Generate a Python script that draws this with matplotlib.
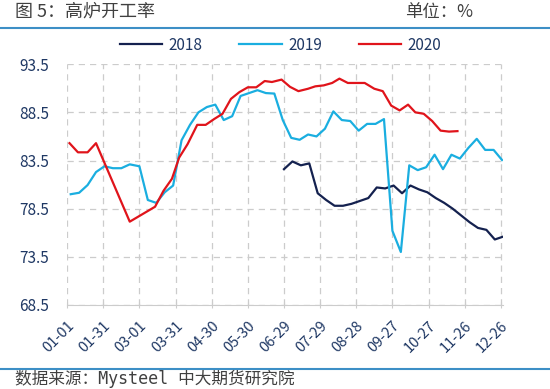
import matplotlib.pyplot as plt
import numpy as np

plt.rcParams['font.family'] = ['Noto Sans CJK SC', 'DejaVu Sans']

# 数据：以1月1日为第0天的天数
days_2018 = [180, 187, 194, 201, 208, 215, 222, 229, 236, 243, 250, 257, 264,
             271, 278, 285, 292, 299, 306, 313, 320, 327, 334, 341, 348, 355, 362]
vals_2018 = [82.6, 83.4, 83.0, 83.2, 80.1, 79.4, 78.8, 78.8, 79.0, 79.3, 79.6, 80.7, 80.6,
             80.9, 80.1, 80.9, 80.5, 80.2, 79.6, 79.1, 78.5, 77.8, 77.1, 76.5, 76.3, 75.3, 75.6]

days_2019 = [3, 10, 17, 24, 31, 38, 45, 52, 60, 67, 74, 81, 88, 95, 102, 109, 116, 123,
             130, 137, 144, 151, 158, 165, 172, 179, 186, 193, 200, 207, 214, 221, 228,
             235, 242, 249, 256, 263, 270, 277, 284, 291, 298, 305, 312, 319, 326, 333,
             340, 347, 354, 361]
vals_2019 = [80.0, 80.15, 80.95, 82.3, 82.9, 82.7, 82.7, 83.1, 82.9, 79.4, 79.1, 80.2, 80.9,
             85.6, 87.2, 88.5, 89.05, 89.3, 87.7, 88.1, 90.2, 90.5, 90.8, 90.5, 90.45,
             87.7, 85.85, 85.65, 86.2, 86.0, 86.8, 88.6, 87.7, 87.6, 86.6, 87.3, 87.3,
             87.8, 76.2, 74.0, 83.0, 82.5, 82.8, 84.1, 82.6, 84.1, 83.7, 84.8, 85.75,
             84.6, 84.6, 83.55]

days_2020 = [2, 9, 17, 24, 52, 73, 80, 87, 93, 100, 108, 115, 122, 129, 136, 143, 150,
             157, 164, 170, 178, 185, 192, 200, 206, 213, 220, 226, 233, 240, 247, 255,
             262, 269, 276, 283, 289, 296, 303, 310, 317, 324]
vals_2020 = [85.3, 84.35, 84.35, 85.3, 77.15, 78.7, 80.35, 81.6, 83.8, 85.2, 87.2, 87.2,
             87.8, 88.35, 89.9, 90.6, 91.1, 91.1, 91.75, 91.65, 91.9, 91.15, 90.7, 90.95,
             91.2, 91.3, 91.55, 92.0, 91.55, 91.55, 91.55, 90.95, 90.7, 89.2, 88.7, 89.3,
             88.5, 88.35, 87.6, 86.6, 86.5, 86.55]

tick_days = np.arange(0, 361, 30)
tick_labels = ['01-01', '01-31', '03-01', '03-31', '04-30', '05-30', '06-29',
               '07-29', '08-28', '09-27', '10-27', '11-26', '12-26']
y_ticks = [68.5, 73.5, 78.5, 83.5, 88.5, 93.5]

fig = plt.figure(figsize=(5.5, 3.89), dpi=100)
ax = fig.add_axes([0.122, 0.216, 0.793, 0.619])

ax.plot(days_2018, vals_2018, color='#14214f', lw=1.6, label='2018')
ax.plot(days_2019, vals_2019, color='#1aaee0', lw=1.6, label='2019')
ax.plot(days_2020, vals_2020, color='#e0141b', lw=1.6, label='2020')

ax.set_xlim(0, 362)
ax.set_ylim(68.5, 93.5)
ax.set_yticks(y_ticks)
ax.set_yticklabels([f'{v:.1f}' for v in y_ticks], color='#1f3864', fontsize=11)
ax.set_xticks(tick_days)
ax.set_xticklabels(tick_labels, rotation=45, ha='right', va='top', rotation_mode='anchor',
                   color='#1f3864', fontsize=10.5)
ax.grid(True, color='#cccccc', ls=(0, (5, 4)), lw=0.9)
for s in ['left', 'right', 'top']:
    ax.spines[s].set_visible(False)
ax.spines['bottom'].set_color('#cccccc')
ax.tick_params(axis='y', length=0, pad=13)
ax.tick_params(axis='x', length=4, color='#cccccc', direction='inout', pad=8)

fig.legend(loc='center', bbox_to_anchor=(0.51, 1 - 45 / 389), ncol=3, frameon=False,
           fontsize=11, handlelength=2.8, columnspacing=2.4, handletextpad=0.4,
           labelcolor='#1f3864')

fig.text(15 / 550, 1 - 12 / 389, '图 5：高炉开工率', fontsize=13, color='#404040', va='center')
fig.text(405 / 550, 1 - 12 / 389, '单位：%', fontsize=12.5, color='#404040', va='center')
fig.add_artist(plt.Line2D([0, 1], [1 - 28 / 389, 1 - 28 / 389], color='#3d8fc6', lw=1.5))
fig.add_artist(plt.Line2D([0, 1], [1 - 369 / 389, 1 - 369 / 389], color='#3d8fc6', lw=1.5))
fig.text(15 / 550, 1 - 379 / 389, '数据来源：Mysteel 中大期货研究院', fontsize=12,
         family=['DejaVu Sans Mono', 'Noto Sans CJK SC'], color='#404040', va='center')

fig.savefig('out.png', dpi=100)
